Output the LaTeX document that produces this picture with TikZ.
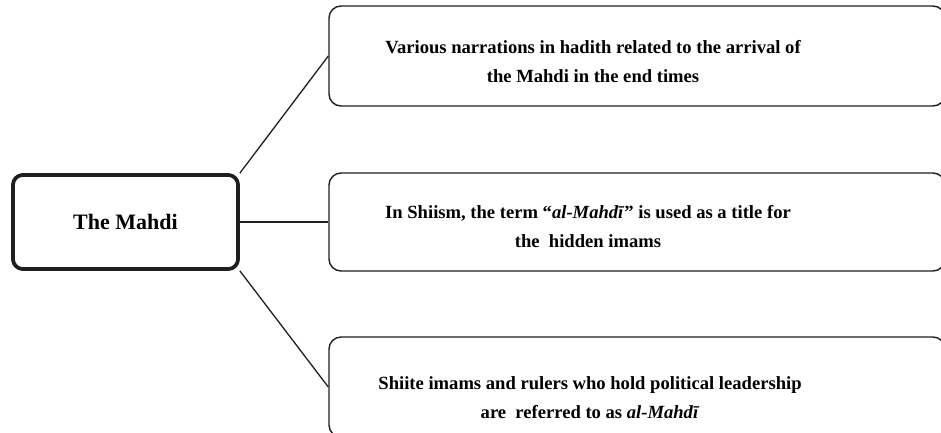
\documentclass[tikz,border=0pt]{standalone}
\usepackage{fontspec}
\setmainfont{Liberation Serif}
\begin{document}
\begin{tikzpicture}[x=1pt,y=-1pt,
  ink/.style={draw=black!88},
  hub/.style={ink, line width=3.6pt, rounded corners=10pt, fill=white,
    minimum width=225pt, minimum height=94pt, inner sep=0pt,
    font=\fontsize{22}{26}\selectfont\bfseries},
  leaf/.style={ink, line width=1.4pt, rounded corners=12pt,
    minimum width=616pt, minimum height=100pt, inner sep=0pt},
  leaftext/.style={align=center, inner sep=0pt,
    font=\fontsize{18.6}{29}\selectfont\bfseries},
  link/.style={ink, line width=1.3pt}]
\useasboundingbox (0,0) rectangle (941,432);
\clip (0,0) rectangle (941,432);

% outer boxes for the three meanings (running off the right edge)
\node[leaf] (b1) at (637,56) {};
\node[leaf, minimum height=98pt] (b2) at (637,222) {};
\node[leaf] (b3) at (637,387) {};

% central box, then its connectors, then the box again on top
\node[hub] (main) at (125.5,222) {The Mahdi};
\draw[link] (main.north east) -- (b1.west);
\draw[link] (main.east) -- (b2.west);
\draw[link] (main.south east) -- (b3.west);
\node[hub] at (main) {The Mahdi};

% texts
\node[leaftext] (t1) at (593,62) {Various narrations in hadith related to the arrival of\\the Mahdi in the end times};
\node[leaftext] (t2) at (588,227) {In Shiism, the term “\textit{al-Mahdī}” is used as a title for\\the\ \ hidden imams};
\node[leaftext] (t3) at (590,398) {Shiite imams and rulers who hold political leadership\\are\ \ referred to as \textit{al-Mahdī}};
\end{tikzpicture}
\end{document}
